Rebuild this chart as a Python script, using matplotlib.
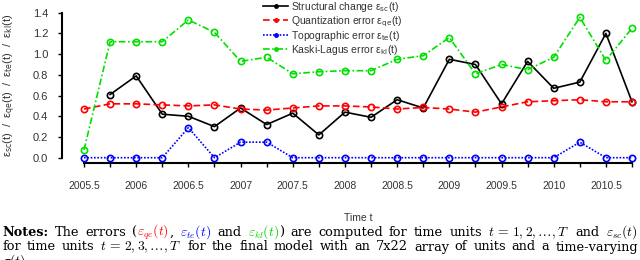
import numpy as np
import matplotlib
matplotlib.use("Agg")
import matplotlib.pyplot as plt
from matplotlib.lines import Line2D

# ---------------- data ----------------
time = [2005.5 + 0.25 * i for i in range(22)]
structural_change = [np.nan, 0.61, 0.79, 0.42, 0.40, 0.30, 0.48, 0.32, 0.43, 0.22, 0.44,
                     0.39, 0.56, 0.48, 0.95, 0.90, 0.52, 0.93, 0.67, 0.73, 1.20, 0.54]
quantization_error = [0.47, 0.52, 0.52, 0.51, 0.50, 0.51, 0.47, 0.46, 0.48, 0.50, 0.50,
                      0.49, 0.47, 0.485, 0.47, 0.44, 0.49, 0.54, 0.55, 0.56, 0.54, 0.54]
topographic_error = [0.0, 0.0, 0.0, 0.0, 0.29, 0.0, 0.15, 0.15, 0.0, 0.0, 0.0,
                     0.0, 0.0, 0.0, 0.0, 0.0, 0.0, 0.0, 0.0, 0.15, 0.0, 0.0]
kaski_lagus_error = [0.075, 1.12, 1.12, 1.12, 1.33, 1.21, 0.93, 0.97, 0.81, 0.83, 0.84,
                     0.84, 0.95, 0.985, 1.16, 0.81, 0.90, 0.85, 0.97, 1.355, 0.94, 1.25]
series_labels = ["Structural change ε$_{\\mathrm{sc}}$(t)",
                 "Quantization error ε$_{\\mathrm{qe}}$(t)",
                 "Topographic error ε$_{\\mathrm{te}}$(t)",
                 "Kaski-Lagus error ε$_{\\mathrm{kl}}$(t)"]
xtick_labels = ["2005.5", "2006", "2006.5", "2007", "2007.5", "2008", "2008.5",
                "2009", "2009.5", "2010", "2010.5"]
ytick_values = [0.0, 0.2, 0.4, 0.6, 0.8, 1.0, 1.2, 1.4]

plt.rcParams['font.family'] = ['Liberation Sans', 'DejaVu Sans']

W, H = 640, 260
fig = plt.figure(figsize=(6.4, 2.6), dpi=100)
ax = fig.add_axes([84 / W, (H - 157.7) / H, 548 / W, 145 / H])

colors = ['black', '#ff0000', '#0000ff', '#00e000']
styles = ['-', (0, (4, 2)), (0, (1, 1)), (0, (4, 1.5, 1, 1.5))]
data = [structural_change, quantization_error, topographic_error, kaski_lagus_error]
handles = []
for vals, c, ls, lab in zip(data, colors, styles, series_labels):
    ax.plot(time, vals, color=c, linestyle=ls, lw=1.2, marker='o', ms=4.5,
            mfc='none', mec=c, mew=1.2, clip_on=False, zorder=3)
    handles.append(Line2D([], [], color=c, linestyle=ls, lw=1.2, marker='o',
                          ms=2.5, mfc=c, mec=c, label=lab))

ax.set_xlim(2005.5, 2010.75)
ax.set_ylim(0, 1.4)
for s in ['top', 'right']:
    ax.spines[s].set_visible(False)
ax.spines['left'].set_position(('outward', 22 * 0.72))
ax.spines['bottom'].set_position(('outward', 5 * 0.72))
ax.spines['left'].set_bounds(0, 1.4)
ax.spines['bottom'].set_bounds(2005.5, 2010.75)
ax.spines['left'].set_linewidth(1.5)
ax.spines['bottom'].set_linewidth(1.5)

ax.set_xticks(time)
ax.set_xticklabels([xtick_labels[i // 2] if i % 2 == 0 else '' for i in range(len(time))])
ax.set_yticks(ytick_values)
ax.set_yticklabels([f"{v:.1f}" for v in ytick_values])
ax.tick_params(axis='x', length=3, width=1, pad=10, labelsize=7.5, colors='black')
ax.tick_params(axis='y', length=3, width=1, pad=7, labelsize=8, colors='black')
for lbl in ax.get_xticklabels() + ax.get_yticklabels():
    lbl.set_color('#333333')

ax.set_xlabel("Time t", fontsize=7.5, color='#333333', labelpad=16)
ax.set_ylabel("ε$_{\\mathrm{sc}}$(t)  /  ε$_{\\mathrm{qe}}$(t)  /  ε$_{\\mathrm{te}}$(t)  /  ε$_{\\mathrm{kl}}$(t)",
              fontsize=8, color='#333333')
ax.yaxis.set_label_coords((18 - 84) / 548, 0.5)

fig.legend(handles=handles, loc='upper left', bbox_to_anchor=(262 / W, 1 + 1 / H),
           frameon=False, fontsize=7.5, handlelength=2.4, handletextpad=0.3,
           labelspacing=0.02, borderaxespad=0, borderpad=0.1, labelcolor='#333333')

# ---------------- notes (justified) ----------------
K, R, B, G = 'black', '#ff0000', '#0000ff', '#00cc00'
line1 = [[("Notes:", K, 'b')], [("The", K, 'n')], [("errors", K, 'n')],
         [("(", K, 'n'), (r"$\varepsilon_{qe}(t)$", R, 'n'), (",", K, 'n')],
         [(r"$\varepsilon_{te}(t)$", B, 'n')], [("and", K, 'n')],
         [(r"$\varepsilon_{kl}(t)$", G, 'n'), (")", K, 'n')],
         [("are", K, 'n')], [("computed", K, 'n')], [("for", K, 'n')], [("time", K, 'n')],
         [("units", K, 'n')], [(r"$t\,=\,1,2,\ldots,T$", K, 'n')], [("and", K, 'n')],
         [(r"$\varepsilon_{sc}(t)$", K, 'n')]]
line2 = [[(w, K, 'n')] for w in "for time units".split()] + \
        [[(r"$t\,=\,2,3,\ldots,T$", K, 'n')]] + \
        [[(w, K, 'n')] for w in "for the final model with an 7x22 array of units and a time-varying".split()]
line3 = [[(r"$\sigma(t)$.", K, 'n')]]

fig.canvas.draw()
rend = fig.canvas.get_renderer()
FS = 9.3


def mk(txt, c, wt, fs, x=0, y=0):
    size = fs * 1.05 if txt.startswith('$') else fs
    return fig.text(x, y, txt, color=c, fontsize=size, family=['DejaVu Serif'],
                    fontweight='bold' if wt == 'b' else 'normal',
                    math_fontfamily='cm', va='baseline', ha='left', transform=None)


def width(txt, c, wt, fs):
    t = mk(txt, c, wt, fs)
    w = t.get_window_extent(rend).width
    t.remove()
    return w


def tok_w(tok, fs):
    return sum(width(s[0], s[1], s[2], fs) for s in tok)


space = width("a a", K, 'n', FS) - width("aa", K, 'n', FS)
left_px, right_px = 2, 638


def place(tokens, baseline_from_top, justify=True):
    ws = [tok_w(t, FS) for t in tokens]
    if justify and len(tokens) > 1:
        gap = (right_px - left_px - sum(ws)) / (len(tokens) - 1)
    else:
        gap = space
    x = left_px
    y = H - baseline_from_top
    for tok, w in zip(tokens, ws):
        xx = x
        for s in tok:
            mk(s[0], s[1], s[2], FS, xx, y)
            xx += width(s[0], s[1], s[2], FS)
        x += w + gap


place(line1, 236)
place(line2, 250.5)
place(line3, 265, justify=False)

fig.savefig("out.png", dpi=100)
